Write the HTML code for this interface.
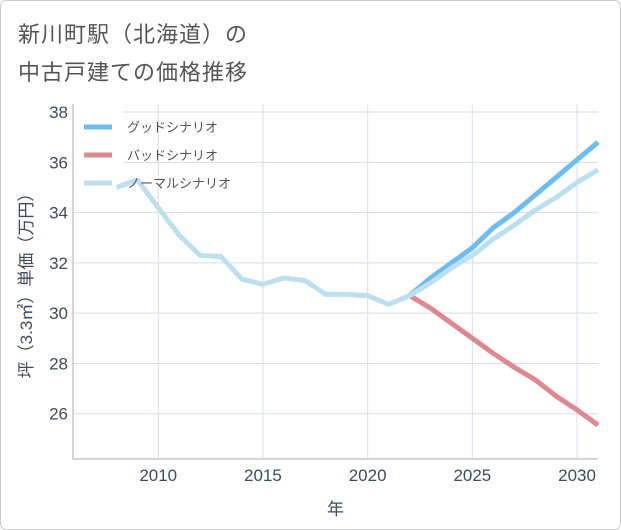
<!DOCTYPE html>
<html><head><meta charset="utf-8"><style>
body{margin:0;background:#fff;}
#wrap{position:relative;width:621px;height:530px;box-sizing:border-box;border:1px solid #ccc;border-radius:6px;overflow:hidden;background:#fff;}
.title{position:absolute;left:17px;font:22px "Liberation Sans","Noto Sans CJK JP",sans-serif;color:#555;letter-spacing:1px;}
svg text{font-family:"Liberation Sans","Noto Sans CJK JP",sans-serif;}
</style></head><body>
<div id="wrap">
<div class="title" style="top:16px">新川町駅（北海道）の</div>
<div class="title" style="top:54px">中古戸建ての価格推移</div>
<svg id="chart" width="621" height="530" style="position:absolute;left:0;top:0"></svg>
</div>
<script>
const normalYears=[2008,2009,2010,2011,2012,2013,2014,2015,2016,2017,2018,2019,2020,2021,2022,2023,2024,2025,2026,2027,2028,2029,2030,2031];
const normalValues=[35.0,35.3,34.2,33.1,32.3,32.25,31.35,31.15,31.4,31.3,30.75,30.75,30.7,30.35,30.7,31.2,31.8,32.3,32.95,33.5,34.1,34.6,35.2,35.7];
const forecastYears=[2022,2023,2024,2025,2026,2027,2028,2029,2030,2031];
const goodValues=[30.7,31.4,32.0,32.6,33.4,34.0,34.7,35.4,36.1,36.8];
const badValues=[30.7,30.2,29.6,29.0,28.4,27.85,27.35,26.7,26.15,25.55];
const xTicks=[2010,2015,2020,2025,2030];
const yTicks=[26,28,30,32,34,36,38];
const legendLabels=["グッドシナリオ","バッドシナリオ","ノーマルシナリオ"];

const NS="http://www.w3.org/2000/svg";
const svg=document.getElementById('chart');
const L=72,R=597,T=103,B=458;
const x=v=>L+(v-2005.93)*(R-L)/(2031-2005.93);
const y=v=>T+(38.32-v)*(B-T)/(38.32-24.2);
function mk(tag,attrs,parent){const e=document.createElementNS(NS,tag);for(const k in attrs)e.setAttribute(k,attrs[k]);(parent||svg).appendChild(e);return e;}
const grid=mk('g',{});


xTicks.forEach(t=>{
  const l=mk('line',{x1:x(t),x2:x(t),y1:T,y2:B,stroke:'#d5dfe8','stroke-width':1},grid);
  
  
  const tx=mk('text',{x:x(t),y:B+22,'text-anchor':'middle','font-size':17,fill:'#3e4c5e'});
  tx.textContent=t;
  
  
});
yTicks.forEach(t=>{
  const l=mk('line',{x1:L,x2:R,y1:y(t),y2:y(t),stroke:'#d5dfe8','stroke-width':1},grid);
  
  
  const tx=mk('text',{x:L-5,y:y(t)+6,'text-anchor':'end','font-size':17,fill:'#3e4c5e'});
  tx.textContent=t;
  
  
});
const ax=mk('path',{d:`M${L},${T}V${B}H${R}`,fill:'none',stroke:'#aab','stroke-width':1});


const lb=mk('rect',{x:L+1,y:T+4,width:50,height:90,fill:'#fff'});


function line(xs,vs,color,name){
  const p=mk('polyline',{points:xs.map((yr,i)=>x(yr)+','+y(vs[i])).join(' '),fill:'none',stroke:color,'stroke-width':5,'stroke-linejoin':'round'});
  
  
}
line(forecastYears,badValues,'#e08890','bad-scenario-line');
line(forecastYears,goodValues,'#6cbdf3','good-scenario-line');
line(normalYears,normalValues,'#bee0ee','normal-scenario-line');
const colors=['#6cbdf3','#e08890','#bee0ee'];
legendLabels.forEach((lab,i)=>{
  const yy=126+i*28;
  const s=mk('line',{x1:83,x2:111,y1:yy,y2:yy,stroke:colors[i],'stroke-width':5});
  
  
  const t=mk('text',{x:126,y:yy+5,'font-size':13,fill:'#555'});
  t.textContent=lab;
  
  
});
const xt=mk('text',{x:(L+R)/2,y:514,'text-anchor':'middle','font-size':17,fill:'#3e4c5e'});
xt.textContent='年';


const yt=mk('text',{x:0,y:0,'text-anchor':'middle','font-size':17,fill:'#3e4c5e',transform:`translate(31,${(T+B)/2}) rotate(-90)`});
yt.textContent='坪（3.3㎡）単価（万円）';


</script>
</body></html>
